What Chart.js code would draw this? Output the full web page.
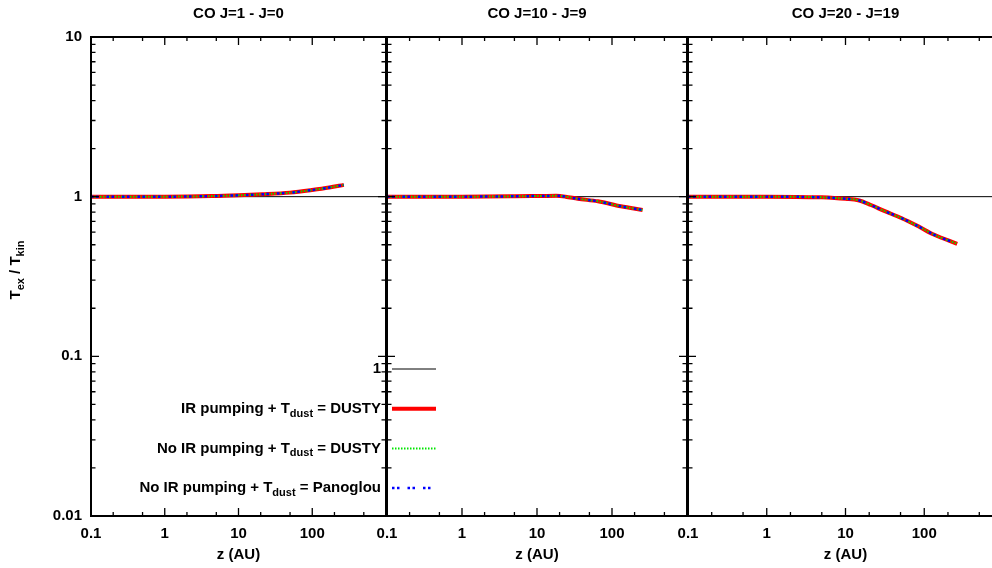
<!DOCTYPE html>
<html>
<head>
<meta charset="utf-8">
<script src="https://cdn.jsdelivr.net/npm/chart.js@4"></script>
<style>
  html, body { margin: 0; padding: 0; overflow: hidden; background: #fff; }
  #wrap { position: relative; width: 992px; height: 568px; overflow: hidden; }
  canvas { position: absolute; left: 0; top: 0; }
</style>
</head>
<body>
<div id="wrap">
  <canvas id="c3" width="1010" height="568"></canvas>
  <canvas id="c2" width="1010" height="568"></canvas>
  <canvas id="c1" width="1010" height="568"></canvas>
</div>
<script>
// ---- data ----
const panelTitles = ["CO J=1 - J=0", "CO J=10 - J=9", "CO J=20 - J=19"];
const xTickValues = [0.1, 1, 10, 100];
const yTickValues = [0.01, 0.1, 1, 10];
const xMin = 0.1, xMax = 1000, yMin = 0.01, yMax = 10;

// T_ex / T_kin vs z (AU); the three model variants coincide in every panel
const zJ1   = [0.1, 1, 4.4, 10, 21, 50, 99, 170, 268];
const texJ1 = [1.0, 1.0, 1.008, 1.02, 1.035, 1.06, 1.10, 1.14, 1.185];
const zJ10   = [0.1, 1, 5, 12, 18, 24, 35, 65, 131, 256];
const texJ10 = [1.0, 1.0, 1.005, 1.01, 1.012, 1.0, 0.97, 0.935, 0.87, 0.825];
const zJ20   = [0.1, 1, 5, 7.2, 10, 14.5, 21, 31, 51, 84, 134, 262];
const texJ20 = [1.0, 1.0, 0.99, 0.982, 0.97, 0.95, 0.887, 0.814, 0.735, 0.652, 0.577, 0.507];

const oneLineX = [xMin, xMax];
const oneLineY = [1, 1];

const legendLabels = [
  "1",
  "IR pumping + T_{dust} = DUSTY",
  "No IR pumping + T_{dust} = DUSTY",
  "No IR pumping + T_{dust} = Panoglou"
];

// ---- drawing ----
const FONT = '"Liberation Sans", Arial, Helvetica, sans-serif';
const FS = 15;
Chart.defaults.font.family = FONT;
Chart.defaults.color = '#000';

const styles = [
  { color: '#000000', width: 1, dash: [] },
  { color: '#ff0000', width: 4, dash: [] },
  { color: '#00e600', width: 2, dash: [1.5, 1.5] },
  { color: '#0000ff', width: 2.5, dash: [2.5, 2.5, 2.5, 8] }
];

function pts(xs, ys) { return xs.map((x, i) => ({ x: x, y: ys[i] })); }

function parseRich(s) {
  const parts = [];
  s.split(/(_\{[^}]*\})/).forEach(p => {
    if (!p) return;
    if (p.startsWith('_{')) parts.push({ t: p.slice(2, -1), sub: true });
    else parts.push({ t: p, sub: false });
  });
  return parts;
}

function richWidth(ctx, text, size) {
  const big = `bold ${size}px ${FONT}`;
  const small = `bold ${Math.round(size * 0.76)}px ${FONT}`;
  return parseRich(text).reduce((sum, p) => {
    ctx.font = p.sub ? small : big;
    return sum + ctx.measureText(p.t).width;
  }, 0);
}

function drawRich(ctx, text, xRight, yMid, size) {
  const parts = parseRich(text);
  const big = `bold ${size}px ${FONT}`;
  const small = `bold ${Math.round(size * 0.76)}px ${FONT}`;
  let x = xRight - richWidth(ctx, text, size);
  ctx.textAlign = 'left';
  ctx.textBaseline = 'middle';
  parts.forEach(p => {
    ctx.font = p.sub ? small : big;
    ctx.fillText(p.t, x, yMid + (p.sub ? size * 0.32 : 0));
    x += ctx.measureText(p.t).width;
  });
}

const frameTicks = {
  id: 'frameTicks',
  afterDatasetsDraw(chart) {
    const { ctx, chartArea: a, scales: { x, y } } = chart;
    ctx.save();
    ctx.strokeStyle = '#000';
    ctx.lineWidth = 1.3;
    ctx.beginPath();
    for (let d = -2; d <= 1; d++) {
      for (let m = 1; m <= 9; m++) {
        const v = m * Math.pow(10, d);
        if (v > yMax * 1.001) break;
        const py = y.getPixelForValue(v);
        const len = m === 1 ? 8 : 4.5;
        ctx.moveTo(a.left, py); ctx.lineTo(a.left + len, py);
        ctx.moveTo(a.right, py); ctx.lineTo(a.right - len, py);
      }
    }
    for (let d = -1; d <= 3; d++) {
      [1, 2, 5].forEach(m => {
        const v = m * Math.pow(10, d);
        if (v > xMax * 1.001) return;
        const px = x.getPixelForValue(v);
        const len = m === 1 ? 8 : 4;
        ctx.moveTo(px, a.bottom); ctx.lineTo(px, a.bottom - len);
        ctx.moveTo(px, a.top); ctx.lineTo(px, a.top + len);
      });
    }
    ctx.stroke();
    ctx.lineWidth = 2;
    ctx.strokeRect(a.left, a.top, a.right - a.left, a.bottom - a.top);
    ctx.restore();
  }
};

const legendAndLabel = {
  id: 'legendAndLabel',
  afterDraw(chart) {
    const { ctx, chartArea: a } = chart;
    ctx.save();
    ctx.fillStyle = '#000';
    // y-axis title, rotated
    ctx.translate(16, 270);
    ctx.rotate(-Math.PI / 2);
    const yTitle = "T_{ex} / T_{kin}";
    drawRich(ctx, yTitle, richWidth(ctx, yTitle, FS) / 2, 0, FS);
    ctx.restore();

    // legend: text in the left panel, samples just right of it
    ctx.save();
    const textRight = a.right - 5;
    const x0 = a.right + 6, x1 = a.right + 50;
    legendLabels.forEach((lab, i) => {
      const yy = a.bottom - 147 + i * 39.7;
      ctx.fillStyle = '#000';
      drawRich(ctx, lab, textRight, yy, FS);
      const s = styles[i];
      ctx.strokeStyle = s.color;
      ctx.lineWidth = s.width;
      ctx.setLineDash(s.dash);
      ctx.beginPath();
      ctx.moveTo(x0, yy); ctx.lineTo(x1, yy);
      ctx.stroke();
    });
    ctx.restore();
  }
};

function makePanel(id, idx, zs, tex, box, showY) {
  const curve = pts(zs, tex);
  const ds = (i, data) => ({
    label: legendLabels[i],
    data: data,
    borderColor: styles[i].color,
    borderWidth: styles[i].width,
    borderDash: styles[i].dash,
    pointRadius: 0,
    fill: false,
    cubicInterpolationMode: 'monotone'
  });
  const yWidth = 60;
  const yScale = {
    type: 'logarithmic',
    display: showY,
    min: yMin, max: yMax,
    afterBuildTicks: s => { s.ticks = yTickValues.map(v => ({ value: v })); },
    grid: { display: false, drawTicks: false },
    border: { display: false },
    ticks: { callback: v => String(v), font: { size: FS, weight: 'bold' }, padding: 9, autoSkip: false }
  };
  if (showY) yScale.afterFit = s => { s.width = yWidth; };
  return new Chart(document.getElementById(id), {
    type: 'line',
    data: {
      datasets: [ds(3, curve), ds(2, curve), ds(1, curve), ds(0, pts(oneLineX, oneLineY))]
    },
    options: {
      responsive: false,
      animation: false,
      layout: {
        padding: { left: showY ? box.left - yWidth : box.left, right: 1010 - box.right, top: 0, bottom: 0 }
      },
      plugins: {
        legend: { display: false },
        tooltip: { enabled: false },
        title: {
          display: true,
          text: panelTitles[idx],
          fullSize: false,
          font: { size: FS, weight: 'bold' },
          padding: { top: 5, bottom: 14 }
        }
      },
      scales: {
        x: {
          type: 'logarithmic',
          min: xMin, max: xMax,
          afterBuildTicks: s => { s.ticks = xTickValues.map(v => ({ value: v })); },
          afterFit: s => { s.height = 52; },
          grid: { display: false, drawTicks: false },
          border: { display: false },
          ticks: { callback: v => String(v), font: { size: FS, weight: 'bold' }, padding: 9, maxRotation: 0, autoSkip: false },
          title: { display: true, text: 'z (AU)', font: { size: FS, weight: 'bold' }, padding: { top: 0, bottom: 4 } }
        },
        y: yScale
      }
    },
    plugins: showY ? [frameTicks, legendAndLabel] : [frameTicks]
  });
}

makePanel('c3', 2, zJ20, texJ20, { left: 688, right: 1003 }, false);
makePanel('c2', 1, zJ10, texJ10, { left: 387, right: 687 }, false);
makePanel('c1', 0, zJ1, texJ1, { left: 91, right: 386 }, true);
</script>
</body>
</html>
